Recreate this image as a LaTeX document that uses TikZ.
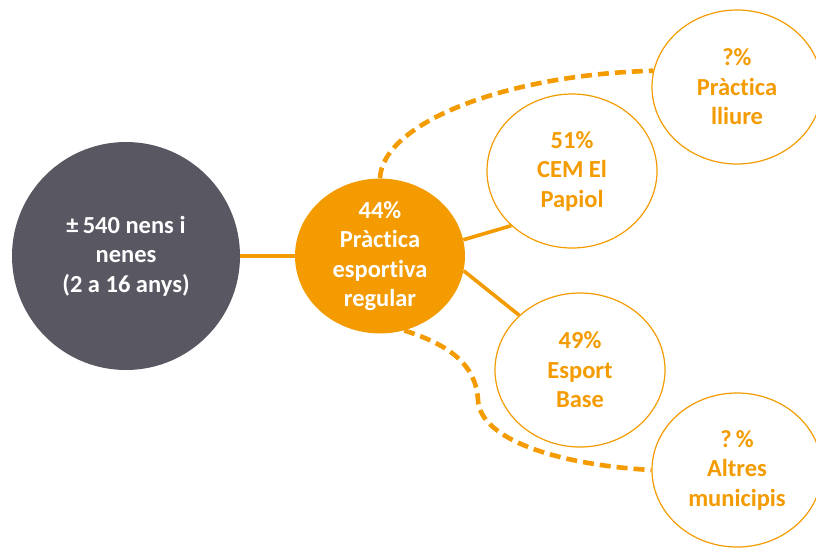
\documentclass[tikz,border=0pt]{standalone}
\usepackage{fontspec}
\setmainfont[Ligatures=NoCommon]{Carlito}
\usetikzlibrary{graphs,shapes.geometric}
\definecolor{slate}{RGB}{88,87,98}
\definecolor{amber}{RGB}{243,155,0}
\tikzset{
    total/.style ={
        shape=circle,
        fill=slate,
        text=white,
        inner sep=0pt,
        minimum size=228pt,
        align=center,
        font=\fontsize{24.5}{29.5}\selectfont\bfseries
    },
    share/.style ={
        shape=ellipse,
        fill=amber,
        text=white,
        inner sep=0pt,
        minimum width=170pt,
        minimum height=154pt,
        align=center,
        font=\fontsize{24.5}{29.5}\selectfont\bfseries
    },
    ring/.style ={
        shape=ellipse,
        draw=amber,
        line width=1.2pt,
        fill=white,
        text=amber,
        inner sep=0pt,
        minimum width=170pt,
        minimum height=154pt,
        align=center,
        font=\fontsize{24.5}{29.5}\selectfont\bfseries
    },
    link/.style ={
        draw=amber,
        line width=3.6pt
    },
    dashlink/.style ={
        draw=amber,
        line width=4.6pt,
        dash pattern=on 11pt off 6pt
    }
}

\begin{document}
\begin{tikzpicture}[x=1pt,y=-1pt]
    \useasboundingbox (0,0) rectangle (816,547);
    \node[total] (540) at(126,256) {±\,540 nens i\\nenes\\(2 a 16 anys)};
    \node[share] (44) at(380,256) {44\%\\Pràctica\\esportiva\\regular};
    \node[ring] (51) at(572,171) {51\%\\CEM El\\Papiol};
    \node[ring] (49) at(580,370) {49\%\\Esport\\Base};
    \node[ring] (lliure) at(737,87) {?\%\\Pràctica\\lliure};
    \node[ring] (altres) at(737,470) {?\,\%\\Altres\\municipis};
    \graph[edges=link]{
        (540)--(44);
        (44.11)--(51.222);
        (44.-10)--(49.138);
    };
    \draw[dashlink] (44.90) .. controls (382,125) and (500,75) .. (lliure.169);
    \draw[dashlink] (44.-72) .. controls (450,345) and (476,365) .. (478,400)
        .. controls (480,440) and (560,465) .. (altres.180);
\end{tikzpicture}
\end{document}
